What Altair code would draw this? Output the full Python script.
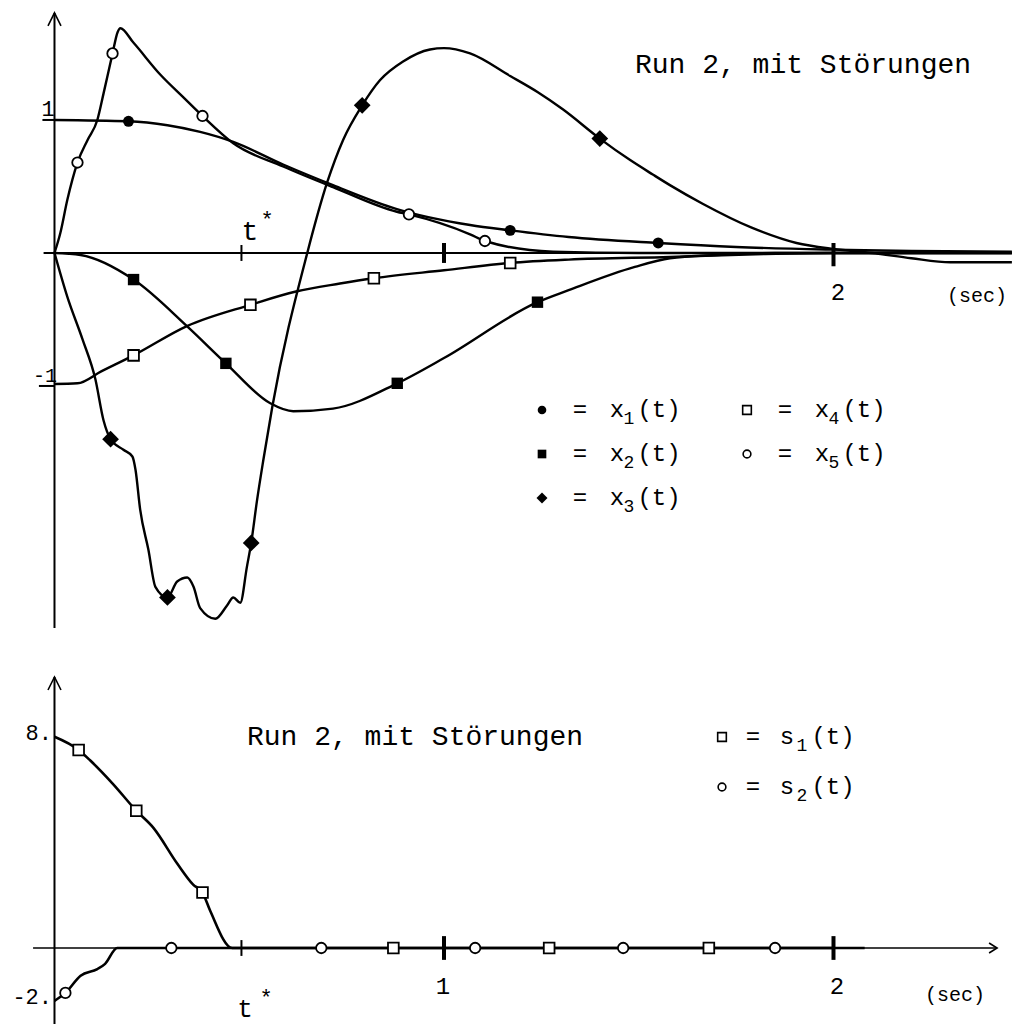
import altair as alt
import pandas as pd

W, H = 1012, 1024
SPLIT = 640                       # pixel row where the lower panel begins
T_DOMAIN = [-0.1399, 2.4583]      # seconds across the full width
TOP_Y_DOMAIN = [-2.910, 1.902]    # upper panel values (rows SPLIT..0)
BOT_Y_DOMAIN = [-2.879, 11.667]   # lower panel values (rows H..SPLIT)
T_STAR = 0.48
FONT = "Liberation Mono"

# ---------------- upper panel: states x1 .. x5 ----------------
x1_t = [0, 0.19, 0.29, 0.374, 0.459, 0.587, 0.715, 0.879, 1.067, 1.17, 1.32, 1.55, 1.75, 2.0, 2.2, 2.458]
x1_y = [1.0, 0.99, 0.96, 0.91, 0.835, 0.665, 0.51, 0.33, 0.21, 0.17, 0.12, 0.075, 0.045, 0.025, 0.015, 0.01]

x2_t = [0, 0.067, 0.203, 0.34, 0.44, 0.554, 0.613, 0.715, 0.88, 1.0, 1.24, 1.32, 1.49, 1.58, 1.7, 1.85, 2.0, 2.458]
x2_y = [0, -0.015, -0.2, -0.55, -0.83, -1.13, -1.19, -1.17, -0.98, -0.79, -0.37, -0.28, -0.105, -0.04, -0.015, 0, 0, 0]

x3_t = [0, 0.033, 0.072, 0.105, 0.126, 0.144, 0.177, 0.2, 0.208, 0.22, 0.241, 0.259, 0.29, 0.315,
        0.341, 0.357, 0.374, 0.413, 0.443, 0.459, 0.477, 0.494, 0.505, 0.52, 0.536, 0.559, 0.649,
        0.70, 0.741, 0.79, 0.836, 0.895, 0.964, 1.0, 1.067, 1.17, 1.24, 1.305, 1.40, 1.477, 1.536,
        1.58, 1.664, 1.79, 1.905, 2.0, 2.1, 2.2, 2.3, 2.458]
x3_y = [0, -0.33, -0.65, -0.95, -1.26, -1.40, -1.48, -1.53, -1.63, -1.93, -2.23, -2.51, -2.59, -2.47,
        -2.44, -2.51, -2.67, -2.75, -2.65, -2.59, -2.63, -2.36, -2.18, -1.86, -1.56, -1.16, 0,
        0.53, 0.85, 1.11, 1.30, 1.44, 1.53, 1.54, 1.50, 1.33, 1.21, 1.08, 0.86, 0.70, 0.59,
        0.51, 0.37, 0.19, 0.075, 0.03, 0.0, -0.04, -0.07, -0.07]

x4_t = [0, 0.059, 0.12, 0.203, 0.34, 0.503, 0.62, 0.733, 0.82, 1.0, 1.17, 1.32, 1.58, 1.8, 2.0, 2.458]
x4_y = [-0.985, -0.98, -0.89, -0.77, -0.55, -0.39, -0.29, -0.23, -0.19, -0.13, -0.075, -0.05, -0.03, -0.01, 0, 0]

x5_t = [0, 0.015, 0.033, 0.059, 0.085, 0.11, 0.126, 0.149, 0.162, 0.169, 0.203, 0.272, 0.331, 0.38,
        0.459, 0.587, 0.715, 0.879, 0.91, 1.067, 1.105, 1.28, 1.5, 2.0, 2.458]
x5_y = [0, 0.15, 0.40, 0.68, 0.85, 1.0, 1.20, 1.50, 1.66, 1.69, 1.58, 1.34, 1.17, 1.03,
        0.825, 0.65, 0.495, 0.31, 0.29, 0.14, 0.09, 0.01, 0.0, 0.0, 0.0]

# symbols placed along each state curve
x1_mk_t = [0.19, 1.17, 1.55]
x1_mk_y = [0.99, 0.17, 0.075]
x2_mk_t = [0.203, 0.44, 0.88, 1.24]
x2_mk_y = [-0.2, -0.83, -0.98, -0.37]
x3_mk_t = [0.144, 0.29, 0.505, 0.79, 1.40]
x3_mk_y = [-1.40, -2.59, -2.18, 1.11, 0.86]
x4_mk_t = [0.203, 0.503, 0.82, 1.17]
x4_mk_y = [-0.77, -0.39, -0.19, -0.075]
x5_mk_t = [0.059, 0.149, 0.38, 0.91, 1.105]
x5_mk_y = [0.68, 1.50, 1.03, 0.29, 0.09]

# ---------------- lower panel: switching functions s1, s2 ----------------
s1_t = [0, 0.062, 0.092, 0.151, 0.21, 0.254, 0.315, 0.356, 0.38, 0.40, 0.456, 1.0, 2.0]
s1_y = [8, 7.5, 7.1, 6.2, 5.2, 4.55, 3.2, 2.4, 2.1, 1.4, 0, 0, 0]
s2_t = [0, 0.028, 0.067, 0.11, 0.13, 0.161, 1.0, 2.08]
s2_y = [-2.0, -1.7, -1.05, -0.8, -0.6, 0, 0, 0]

s1_mk_t = [0.062, 0.21, 0.38, 0.87, 1.27, 1.68]
s1_mk_y = [7.5, 5.2, 2.1, 0, 0, 0]
s2_mk_t = [0.028, 0.30, 0.685, 1.08, 1.46, 1.85]
s2_mk_y = [-1.7, 0, 0, 0, 0, 0]


def curves(items):
    return pd.concat([pd.DataFrame({"series": n, "t": t, "y": y}) for n, t, y in items],
                     ignore_index=True)


def markers(items):
    return pd.concat([pd.DataFrame({"series": n, "t": t, "y": y, "shape": s, "size": z})
                      for n, t, y, s, z in items], ignore_index=True)


xs = alt.Scale(domain=T_DOMAIN, nice=False, zero=False)
ys_top = alt.Scale(domain=TOP_Y_DOMAIN, range=[SPLIT, 0], nice=False, zero=False)
ys_bot = alt.Scale(domain=BOT_Y_DOMAIN, range=[H, SPLIT], nice=False, zero=False)

X = alt.X("t:Q", scale=xs, axis=None)
X2 = alt.X2("t2:Q")


def panel(lines_df, filled_df, open_df, rules_df, arrows_df, yscale, line_w):
    Y = alt.Y("y:Q", scale=yscale, axis=None)
    rules = alt.Chart(rules_df).mark_rule(color="black").encode(
        x=X, x2=X2, y=Y, y2=alt.Y2("y2:Q"),
        strokeWidth=alt.StrokeWidth("w:Q", scale=None))
    lines = alt.Chart(lines_df).mark_line(color="black", strokeWidth=line_w, interpolate="monotone").encode(
        x=X, y=Y, detail="series:N")
    layers = [rules, lines]
    if filled_df is not None:
        layers.append(alt.Chart(filled_df).mark_point(filled=True, color="black", opacity=1).encode(
            x=X, y=Y, shape=alt.Shape("shape:N", scale=None), size=alt.Size("size:Q", scale=None)))
    layers.append(alt.Chart(open_df).mark_point(filled=True, fill="white", stroke="black",
                                                strokeWidth=1.8, opacity=1).encode(
        x=X, y=Y, shape=alt.Shape("shape:N", scale=None), size=alt.Size("size:Q", scale=None)))
    layers.append(alt.Chart(arrows_df).mark_point(filled=False, stroke="black", strokeWidth=1.6,
                                                  opacity=1).encode(
        x=X, y=Y, shape=alt.Shape("shape:N", scale=None), size=alt.Size("size:Q", scale=None)))
    return alt.layer(*layers)


UP = "M-1,2L0,0L1,2"
RIGHT = "M-1.6,-1L0,0L-1.6,1"

top_lines = curves([("x1", x1_t, x1_y), ("x2", x2_t, x2_y), ("x3", x3_t, x3_y),
                    ("x4", x4_t, x4_y), ("x5", x5_t, x5_y)])
top_filled = markers([("x1", x1_mk_t, x1_mk_y, "circle", 120),
                      ("x2", x2_mk_t, x2_mk_y, "square", 130),
                      ("x3", x3_mk_t, x3_mk_y, "diamond", 280)])
top_open = markers([("x4", x4_mk_t, x4_mk_y, "square", 115),
                    ("x5", x5_mk_t, x5_mk_y, "circle", 110)])
top_rules = pd.DataFrame({
    "t":  [0, -0.028, T_STAR, 1, 2, -0.031, -0.04],
    "t2": [0, 2.458, T_STAR, 1, 2, 0, 0],
    "y":  [-2.82, 0, -0.06, -0.075, -0.1, 1, -1],
    "y2": [1.805, 0, 0.06, 0.075, 0.075, 1, -1],
    "w":  [2, 2, 2, 4, 4, 2, 2],
})
top_arrows = pd.DataFrame({"t": [0], "y": [1.805], "shape": [UP], "size": [169]})

bot_lines = curves([("s1", s1_t, s1_y), ("s2", s2_t, s2_y)])
bot_open = markers([("s1", s1_mk_t, s1_mk_y, "square", 115),
                    ("s2", s2_mk_t, s2_mk_y, "circle", 110)])
bot_rules = pd.DataFrame({
    "t":  [0, -0.055, T_STAR, 1, 2],
    "t2": [0, 2.42, T_STAR, 1, 2],
    "y":  [-2.879, 0, -0.3, -0.45, -0.45],
    "y2": [10.265, 0, 0.3, 0.45, 0.45],
    "w":  [2, 1.6, 2, 4, 4],
})
bot_arrows = pd.DataFrame({"t": [0, 2.42], "y": [10.265, 0], "shape": [UP, RIGHT], "size": [169, 100]})

top = panel(top_lines, top_filled, top_open, top_rules, top_arrows, ys_top, 2.4)
bottom = panel(bot_lines, None, bot_open, bot_rules, bot_arrows, ys_bot, 2.6)

# ---------------- captions, axis labels and legend keys (pixel placement) ----------------
TITLE = "Run 2, mit Störungen"
txt_left = pd.DataFrame({
    "text": [TITLE, TITLE],
    "px": [635, 247], "py": [65, 737], "fs": [28, 28]})
txt_center = pd.DataFrame({
    "text": ["1", "-1", "t", "*", "2", "(sec)", "1", "2", "(sec)", "t", "*"],
    "px":   [48, 45, 250, 267, 838, 977, 443, 837, 955, 245, 266],
    "py":   [109, 376, 232, 220, 293, 296, 987, 987, 995, 1009, 998],
    "fs":   [22, 20, 28, 22, 24, 20, 24, 24, 20, 26, 22]})
txt_right = pd.DataFrame({
    "text": ["8.", "-2."], "px": [52, 52], "py": [733, 997], "fs": [22, 22]})

# legend: key symbol, then "=  x_k(t)" / "=  s_k(t)"
leg_sym = ["circle", "square", "diamond", "square", "circle", "square", "circle"]
leg_fill = [True, True, True, False, False, False, False]
leg_letter = ["x", "x", "x", "x", "x", "s", "s"]
leg_index = ["1", "2", "3", "4", "5", "1", "2"]
leg_px = [542, 542, 542, 747, 747, 722, 722]
leg_py = [410, 454, 498, 410, 454, 737, 787]
leg_size = [75, 75, 120, 75, 60, 75, 60]

leg_rows = []
for sym, fill, let, idx, px, py in zip(leg_sym, leg_fill, leg_letter, leg_index, leg_px, leg_py):
    lower = let == "s"
    d_eq, d_let, d_sub, d_par = (31, 65, 80, 111) if lower else (38, 75, 87, 117)
    leg_rows += [
        {"text": "=", "px": px + d_eq, "py": py, "fs": 24},
        {"text": let, "px": px + d_let, "py": py, "fs": 24},
        {"text": idx, "px": px + d_sub, "py": py + 9, "fs": 18},
        {"text": "(t)", "px": px + d_par, "py": py, "fs": 24},
    ]
txt_center = pd.concat([txt_center, pd.DataFrame(leg_rows)], ignore_index=True)

leg_df = pd.DataFrame({"shape": leg_sym, "filled": leg_fill, "px": leg_px, "py": leg_py, "size": leg_size})

PX = alt.X("px:Q", scale=None)
PY = alt.Y("py:Q", scale=None)


def text_layer(df, align):
    return alt.Chart(df).mark_text(font=FONT, color="black", align=align, baseline="middle").encode(
        x=PX, y=PY, text="text:N", size=alt.Size("fs:Q", scale=None))


leg_filled = alt.Chart(leg_df[leg_df["filled"]]).mark_point(filled=True, color="black", opacity=1).encode(
    x=PX, y=PY, shape=alt.Shape("shape:N", scale=None), size=alt.Size("size:Q", scale=None))
leg_open = alt.Chart(leg_df[~leg_df["filled"]]).mark_point(filled=True, fill="white", stroke="black",
                                                           strokeWidth=1.6, opacity=1).encode(
    x=PX, y=PY, shape=alt.Shape("shape:N", scale=None), size=alt.Size("size:Q", scale=None))

labels = alt.layer(text_layer(txt_left, "left"), text_layer(txt_center, "center"),
                   text_layer(txt_right, "right"), leg_filled, leg_open)

chart = (
    alt.layer(top, bottom, labels)
    .resolve_scale(x="independent", y="independent")
    .properties(width=W, height=H, padding=0, background="white",
                autosize=alt.AutoSizeParams(type="none"))
    .configure_view(stroke=None)
)

chart.save("out.html", embed_options={"renderer": "svg", "actions": False})
